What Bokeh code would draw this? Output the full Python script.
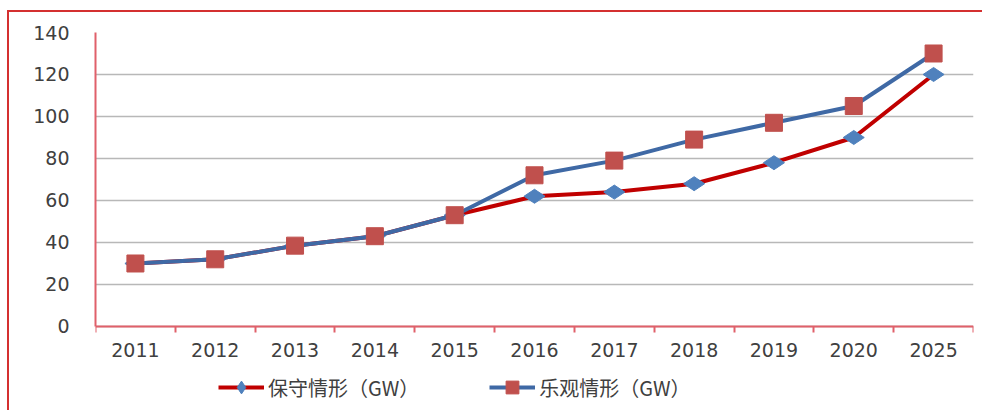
from bokeh.plotting import figure
from bokeh.models import Range1d, FixedTicker, Legend, LegendItem
from bokeh.embed import file_html
from bokeh.resources import INLINE

years = ["2011", "2012", "2013", "2014", "2015", "2016", "2017", "2018", "2019", "2020", "2025"]
conservative = [30, 32, 38.5, 43, 53, 62, 64, 68, 78, 90, 120]
optimistic = [30, 32, 38.5, 43, 53, 72, 79, 89, 97, 105, 130]
y_ticks = [0, 20, 40, 60, 80, 100, 120, 140]
label_cons = "保守情形（GW）"
label_opt = "乐观情形（GW）"

n = len(years)
xs = list(range(1, n + 1))

# frame extends below zero to leave room for the category labels and legend
p = figure(width=975, height=400, output_backend="svg", toolbar_location=None,
           x_range=Range1d(0.5, n + 0.5), y_range=Range1d(-38.1, 140),
           min_border_left=86, min_border_right=11, min_border_top=20, min_border_bottom=6)
p.outline_line_color = None
p.styles = {"margin-top": "10px", "margin-left": "7px",
            "border-top": "2px solid #d43030", "border-left": "2px solid #d43030"}

axis_red = "#e0606a"
text_col = "#404040"

xa = p.xaxis[0]
xa.fixed_location = 0
xa.ticker = FixedTicker(ticks=xs, minor_ticks=[i + 0.5 for i in range(n + 1)])
xa.major_label_overrides = {i + 1: y for i, y in enumerate(years)}
xa.major_tick_out = 0
xa.major_tick_in = 0
xa.minor_tick_out = 6
xa.minor_tick_in = 0
xa.minor_tick_line_color = axis_red
xa.minor_tick_line_width = 2
xa.axis_line_color = axis_red
xa.axis_line_width = 2
xa.major_label_standoff = 11
xa.major_label_text_font = "DejaVu Sans"
xa.major_label_text_font_size = "19px"
xa.major_label_text_color = text_col

ya = p.yaxis[0]
ya.ticker = FixedTicker(ticks=y_ticks)
ya.bounds = (0, 140)
ya.major_tick_out = 0
ya.major_tick_in = 0
ya.minor_tick_out = 0
ya.minor_tick_in = 0
ya.axis_line_color = axis_red
ya.axis_line_width = 2
ya.major_label_standoff = 26
ya.major_label_text_font = "DejaVu Sans"
ya.major_label_text_font_size = "19px"
ya.major_label_text_color = text_col

p.xgrid.visible = False
p.ygrid.ticker = ya.ticker
p.ygrid.grid_line_color = "#b8b8b8"
p.ygrid.grid_line_width = 1.5

l1 = p.line(xs, conservative, line_color="#c00000", line_width=4)
s1 = p.scatter(xs, conservative, marker="diamond", angle=1.5708, size=21,
               fill_color="#4f81bd", line_color="#4f81bd")
l2 = p.line(xs, optimistic, line_color="#3f69a5", line_width=4)
s2 = p.scatter(xs, optimistic, marker="square", size=17,
               fill_color="#c0504d", line_color="#c0504d")

legend = Legend(items=[LegendItem(label=label_cons, renderers=[l1, s1]),
                       LegendItem(label=label_opt, renderers=[l2, s2])],
                orientation="horizontal", location=(123, 3))
legend.border_line_color = None
legend.background_fill_alpha = 0
legend.glyph_width = 46
legend.glyph_height = 32
legend.label_text_font = "Noto Sans CJK SC"
legend.label_text_font_size = "20px"
legend.label_text_color = text_col
legend.label_standoff = 4
legend.spacing = 70
legend.padding = 0
legend.margin = 0
p.add_layout(legend, "center")

open("out.html", "w").write(file_html(p, INLINE))
